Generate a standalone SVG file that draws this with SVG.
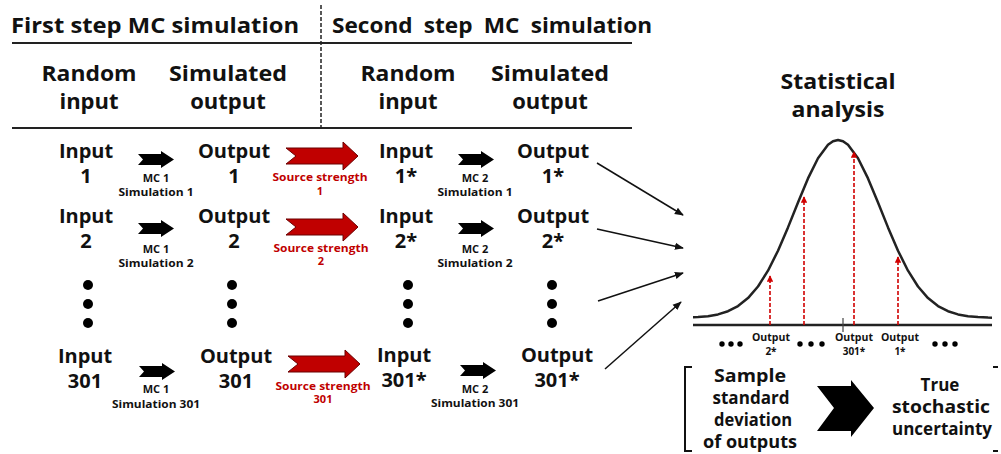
<svg xmlns="http://www.w3.org/2000/svg" width="1001" height="454" viewBox="0 0 1001 454">
<style>
.t{font-family:"Open Sans","Noto Sans",sans-serif;font-weight:700;fill:#111;text-anchor:middle}
.h{font-size:21px;text-anchor:start}
.c{font-size:22px}
.n{font-size:20px}
.b{font-size:17px}
.s{font-size:11px}
.o{font-size:10px}
.r{fill:#c00000}
.rule{stroke:#222;stroke-width:2}
.conn{stroke:#111;stroke-width:1.5;fill:none}
.rd{stroke:#d00000;stroke-width:1.6;stroke-dasharray:4 2;fill:none}
</style>
<defs>
<path id="ba" d="M0,3 L23,3 L23,0 L36,8.5 L23,17 L23,14 L0,14 L5,8.5 Z" fill="#000"/>
<path id="ra" d="M0,6 L57,6 L57,0 L72,14 L57,28 L57,22 L0,22 L10,14 Z" fill="#c00000" stroke="#6a0000" stroke-width="1"/>
<marker id="mk" viewBox="0 0 10 10" refX="9" refY="5" markerWidth="6" markerHeight="6" orient="auto" markerUnits="strokeWidth">
<path d="M0,1 L10,5 L0,9 Z" fill="#111"/>
</marker>
<marker id="mr" viewBox="0 0 10 10" refX="9" refY="5" markerWidth="4" markerHeight="4" orient="auto" markerUnits="strokeWidth">
<path d="M0,0 L10,5 L0,10 Z" fill="#d00000"/>
</marker>
</defs>

<g id="header">
<text class="t h" x="11" y="33" textLength="288" lengthAdjust="spacingAndGlyphs">First step MC simulation</text>
<text class="t h" x="332" y="33" word-spacing="5" textLength="320" lengthAdjust="spacingAndGlyphs">Second step MC simulation</text>
<line class="rule" x1="12" y1="43" x2="632" y2="43"/>
<line class="rule" x1="12" y1="128" x2="632" y2="128"/>
<line x1="321" y1="5" x2="321" y2="128" stroke="#222" stroke-width="1.5" stroke-dasharray="4 2"/>
<text class="t c" x="89" y="81" textLength="95" lengthAdjust="spacingAndGlyphs">Random</text>
<text class="t c" x="89" y="109">input</text>
<text class="t c" x="228" y="81" textLength="118" lengthAdjust="spacingAndGlyphs">Simulated</text>
<text class="t c" x="228" y="109">output</text>
<text class="t c" x="408" y="81" textLength="95" lengthAdjust="spacingAndGlyphs">Random</text>
<text class="t c" x="408" y="109">input</text>
<text class="t c" x="550" y="81" textLength="118" lengthAdjust="spacingAndGlyphs">Simulated</text>
<text class="t c" x="550" y="109">output</text>
</g>

<g id="input1"><text class="t n" x="86" y="158">Input</text><text class="t n" x="86" y="183">1</text></g>
<g id="input2"><text class="t n" x="86" y="223">Input</text><text class="t n" x="86" y="248">2</text></g>
<g id="input301"><text class="t n" x="85" y="363">Input</text><text class="t n" x="85" y="388">301</text></g>
<g id="output1"><text class="t n" x="234" y="158">Output</text><text class="t n" x="234" y="183">1</text></g>
<g id="output2"><text class="t n" x="234" y="223">Output</text><text class="t n" x="234" y="248">2</text></g>
<g id="output301"><text class="t n" x="236" y="363">Output</text><text class="t n" x="236" y="388">301</text></g>
<g id="inputs1"><text class="t n" x="406" y="158">Input</text><text class="t n" x="406" y="183">1*</text></g>
<g id="inputs2"><text class="t n" x="406" y="223">Input</text><text class="t n" x="406" y="248">2*</text></g>
<g id="inputs301"><text class="t n" x="404" y="362">Input</text><text class="t n" x="404" y="387">301*</text></g>
<g id="outputs1"><text class="t n" x="553" y="158">Output</text><text class="t n" x="553" y="183">1*</text></g>
<g id="outputs2"><text class="t n" x="553" y="223">Output</text><text class="t n" x="553" y="248">2*</text></g>
<g id="outputs301"><text class="t n" x="557" y="362">Output</text><text class="t n" x="557" y="387">301*</text></g>

<g id="dots">
<circle cx="88" cy="285" r="5"/><circle cx="88" cy="304" r="5"/><circle cx="88" cy="323" r="5"/>
<circle cx="232" cy="285" r="5"/><circle cx="232" cy="304" r="5"/><circle cx="232" cy="323" r="5"/>
<circle cx="408" cy="285" r="5"/><circle cx="408" cy="304" r="5"/><circle cx="408" cy="323" r="5"/>
<circle cx="552" cy="285" r="5"/><circle cx="552" cy="304" r="5"/><circle cx="552" cy="323" r="5"/>
</g>

<g id="mc1">
<use href="#ba" x="138" y="151"/>
<text class="t s" x="156" y="182">MC 1</text><text class="t s" x="156" y="196" textLength="75" lengthAdjust="spacingAndGlyphs">Simulation 1</text>
<use href="#ba" x="138" y="220"/>
<text class="t s" x="156" y="253">MC 1</text><text class="t s" x="156" y="267" textLength="75" lengthAdjust="spacingAndGlyphs">Simulation 2</text>
<use href="#ba" x="139" y="363"/>
<text class="t s" x="156" y="393">MC 1</text><text class="t s" x="156" y="408" textLength="88" lengthAdjust="spacingAndGlyphs">Simulation 301</text>
</g>
<g id="source">
<use href="#ra" x="286" y="142"/>
<text class="t s r" x="320" y="181" textLength="95" lengthAdjust="spacingAndGlyphs">Source strength</text><text class="t s r" x="320" y="195">1</text>
<use href="#ra" x="286" y="213"/>
<text class="t s r" x="321" y="252" textLength="95" lengthAdjust="spacingAndGlyphs">Source strength</text><text class="t s r" x="321" y="265">2</text>
<use href="#ra" x="288" y="350"/>
<text class="t s r" x="323" y="390" textLength="95" lengthAdjust="spacingAndGlyphs">Source strength</text><text class="t s r" x="323" y="403">301</text>
</g>
<g id="mc2">
<use href="#ba" x="458" y="151"/>
<text class="t s" x="475" y="182">MC 2</text><text class="t s" x="475" y="196" textLength="75" lengthAdjust="spacingAndGlyphs">Simulation 1</text>
<use href="#ba" x="458" y="220"/>
<text class="t s" x="475" y="253">MC 2</text><text class="t s" x="475" y="267" textLength="75" lengthAdjust="spacingAndGlyphs">Simulation 2</text>
<use href="#ba" x="460" y="362"/>
<text class="t s" x="475" y="393">MC 2</text><text class="t s" x="475" y="407" textLength="88" lengthAdjust="spacingAndGlyphs">Simulation 301</text>
</g>

<g id="connectors">
<line class="conn" x1="597" y1="163" x2="683" y2="215" marker-end="url(#mk)"/>
<line class="conn" x1="597" y1="229" x2="683" y2="248" marker-end="url(#mk)"/>
<line class="conn" x1="598" y1="301" x2="683" y2="273" marker-end="url(#mk)"/>
<line class="conn" x1="605" y1="369" x2="681" y2="302" marker-end="url(#mk)"/>
</g>

<g id="analysis">
<text class="t c" x="838" y="89" textLength="115" lengthAdjust="spacingAndGlyphs">Statistical</text>
<text class="t c" x="838" y="117" textLength="93" lengthAdjust="spacingAndGlyphs">analysis</text>
<polyline fill="none" stroke="#222" stroke-width="2.5" stroke-linejoin="round" points="693,317.3 698,317.1 708,316.2 718,314.4 728,311.2 738,306.1 748,298.1 758,286.5 768,270.7 778,250.7 788,227.4 798,202.5 808,178.4 818,158.3 828,144.8 833,141.2 838,140 843,141.2 848,144.8 858,158.3 868,178.4 878,202.5 888,227.4 898,250.7 908,270.7 918,286.5 928,298.1 938,306.1 948,311.2 958,314.4 968,316.2 978,317.1 988,317.6 992,317.7"/>
<line x1="693" y1="325" x2="992" y2="325" stroke="#222" stroke-width="2.5"/>
<line x1="843" y1="318" x2="843" y2="332" stroke="#444" stroke-width="1.2"/>
<line class="rd" x1="770" y1="325" x2="770" y2="276" marker-end="url(#mr)"/>
<line class="rd" x1="804" y1="325" x2="804" y2="197" marker-end="url(#mr)"/>
<line class="rd" x1="854" y1="325" x2="854" y2="152" marker-end="url(#mr)"/>
<line class="rd" x1="898" y1="325" x2="898" y2="257" marker-end="url(#mr)"/>
<text class="t o" x="771" y="341" textLength="38" lengthAdjust="spacingAndGlyphs">Output</text><text class="t o" x="771" y="355">2*</text>
<text class="t o" x="854" y="341" textLength="38" lengthAdjust="spacingAndGlyphs">Output</text><text class="t o" x="854" y="355">301*</text>
<text class="t o" x="900" y="341" textLength="38" lengthAdjust="spacingAndGlyphs">Output</text><text class="t o" x="900" y="355">1*</text>
<circle cx="722" cy="344" r="2.7"/><circle cx="731" cy="344" r="2.7"/><circle cx="740" cy="344" r="2.7"/>
<circle cx="800" cy="344" r="2.7"/><circle cx="811" cy="344" r="2.7"/><circle cx="822" cy="344" r="2.7"/>
<circle cx="935" cy="344" r="2.7"/><circle cx="945" cy="344" r="2.7"/><circle cx="955" cy="344" r="2.7"/>
</g>

<g id="conclusion">
<path d="M692,367 L685,367 L685,451 L692,451" fill="none" stroke="#111" stroke-width="2"/>
<path d="M993,367 L998,367 M993,451 L998,451" fill="none" stroke="#111" stroke-width="2"/>
<text class="t b" x="750" y="382" textLength="72" lengthAdjust="spacingAndGlyphs">Sample</text>
<text class="t b" x="751" y="404" textLength="77" lengthAdjust="spacingAndGlyphs">standard</text>
<text class="t b" x="753" y="426" textLength="78" lengthAdjust="spacingAndGlyphs">deviation</text>
<text class="t b" x="750" y="448" textLength="94" lengthAdjust="spacingAndGlyphs">of outputs</text>
<path d="M817,386 L851,386 L851,380 L874,408 L851,437 L851,431 L817,431 L834,408 Z" fill="#000"/>
<text class="t b" x="940" y="391">True</text>
<text class="t b" x="941" y="413" textLength="98" lengthAdjust="spacingAndGlyphs">stochastic</text>
<text class="t b" x="942" y="435" textLength="100" lengthAdjust="spacingAndGlyphs">uncertainty</text>
</g>
</svg>
